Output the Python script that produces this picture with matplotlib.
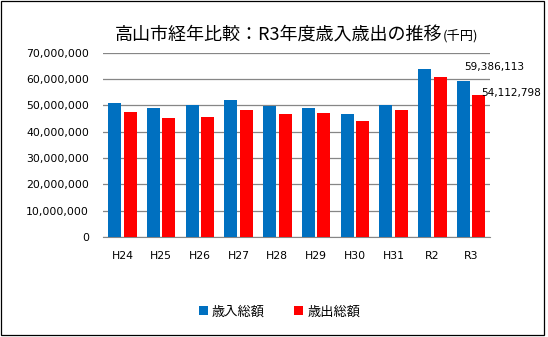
import numpy as np
import matplotlib.pyplot as plt
from matplotlib.patches import Rectangle
from matplotlib.ticker import FuncFormatter

plt.rcParams['font.family'] = ['Noto Sans CJK JP', 'DejaVu Sans']

# 年度別の歳入・歳出総額(千円)
years = ['H24', 'H25', 'H26', 'H27', 'H28', 'H29', 'H30', 'H31', 'R2', 'R3']
revenue = [51000000, 49000000, 50000000, 52200000, 49900000, 49000000,
           46700000, 50100000, 63700000, 59386113]
expense = [47500000, 45100000, 45600000, 48300000, 46600000, 47000000,
           44000000, 48200000, 60700000, 54112798]
series_names = ['歳入総額', '歳出総額']

fig = plt.figure(figsize=(5.48, 3.37), dpi=100)
ax = fig.add_axes([0.188, 0.297, 0.707, 0.546])

x = np.arange(len(years))
w = 0.34
ax.bar(x - 0.2, revenue, w, color='#0070C0', label=series_names[0], zorder=3)
ax.bar(x + 0.2, expense, w, color='#FF0000', label=series_names[1], zorder=3)

# R3のみ値ラベル
ax.text(x[-1] - 0.17, revenue[-1] + 5200000, f'{revenue[-1]:,}', fontsize=7.6,
        family='DejaVu Sans', ha='left', va='center')
ax.text(x[-1] + 0.25, expense[-1] + 600000, f'{expense[-1]:,}', fontsize=7.6,
        family='DejaVu Sans', ha='left', va='center', clip_on=False)

ax.set_xlim(-0.5, len(years) - 0.5)
ax.set_ylim(0, 70000000)
ax.set_yticks(np.arange(0, 70000001, 10000000))
ax.yaxis.set_major_formatter(FuncFormatter(lambda v, p: f'{int(v):,}'))
ax.set_xticks(x)
ax.set_xticklabels(years)
ax.tick_params(axis='both', length=0, labelsize=7.8)
ax.tick_params(axis='y', pad=10)
ax.tick_params(axis='x', pad=10)
for lab in ax.get_xticklabels() + ax.get_yticklabels():
    lab.set_family('DejaVu Sans')
ax.grid(axis='y', color='#868686', linewidth=0.9, zorder=0)
for s in ['top', 'right', 'left']:
    ax.spines[s].set_visible(False)
ax.spines['bottom'].set_color('#868686')

t = fig.text(0.21, 0.895, '高山市経年比較：R3年度歳入歳出の推移', fontsize=13,
             ha='left', va='center')
ax.annotate('(千円)', xy=(1, 0.12), xycoords=t, fontsize=9.5, ha='left', va='bottom')

fig.legend(loc='lower center', bbox_to_anchor=(0.51, 0.02), ncol=2, frameon=False,
           fontsize=9.5, handlelength=0.7, handleheight=0.7, handletextpad=0.3,
           columnspacing=2.2)

fig.add_artist(Rectangle((0.002, 0.006), 0.99, 0.99, transform=fig.transFigure,
                         fill=False, edgecolor='black', linewidth=0.9))

fig.savefig('out.png', dpi=100)
